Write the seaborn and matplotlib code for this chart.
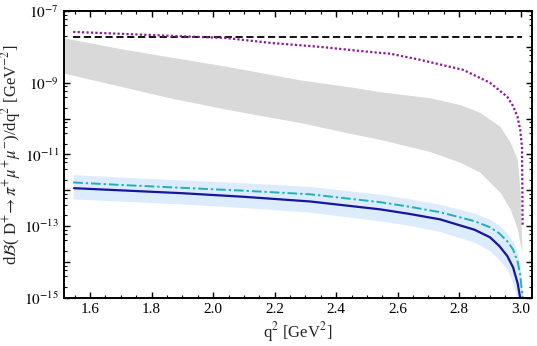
import numpy as np
import pandas as pd
import matplotlib
matplotlib.use("Agg")
import matplotlib.pyplot as plt
import matplotlib.ticker as mticker
import seaborn as sns

# values, as log10 of dB/dq^2
gray_q = [1.50, 1.70, 1.86, 2.05, 2.283, 2.45, 2.543, 2.706, 2.803, 2.868, 2.933, 2.966, 2.989, 2.998, 3.004]
gray_hi = [-7.72, -8.05, -8.28, -8.55, -8.92, -9.12, -9.25, -9.42, -9.61, -9.83, -10.22, -10.67, -11.14, -12.06, -13.72]
gray_lo = [-8.70, -9.10, -9.42, -9.75, -10.11, -10.42, -10.58, -10.92, -11.22, -11.5, -12.06, -12.53, -13.08, -13.5, -13.72]

dot_q = [1.545, 1.86, 2.04, 2.19, 2.35, 2.51, 2.576, 2.673, 2.813, 2.90, 2.956, 2.975, 2.989, 2.998, 3.004, 3.006]
dot_v = [-7.58, -7.69, -7.75, -7.89, -8.0, -8.14, -8.19, -8.36, -8.64, -9.0, -9.39, -9.65, -9.94, -10.3, -10.8, -13.0]

dash_q = [1.545, 3.004]
dash_v = [-7.72, -7.72]

blue_q = [1.548, 1.7, 1.9, 2.1, 2.315, 2.543, 2.64, 2.738, 2.85, 2.90, 2.93, 2.956, 2.975, 2.99, 2.998]
blue_v = [-11.94, -12.0, -12.08, -12.18, -12.31, -12.53, -12.66, -12.81, -13.1, -13.31, -13.55, -13.83, -14.15, -14.6, -15.0]

cyan_q = [1.545, 1.7, 1.9, 2.1, 2.315, 2.543, 2.64, 2.738, 2.85, 2.90, 2.93, 2.956, 2.975, 2.99, 2.998, 3.006]
cyan_v = [-11.78, -11.85, -11.93, -12.01, -12.11, -12.33, -12.46, -12.61, -12.86, -13.03, -13.2, -13.42, -13.65, -14.0, -14.35, -15.0]

band_q = [1.545, 1.7, 1.9, 2.1, 2.315, 2.543, 2.64, 2.738, 2.85, 2.90, 2.93, 2.956, 2.975, 2.99, 2.998, 3.006]
band_hi = [-11.56, -11.63, -11.71, -11.79, -11.89, -12.11, -12.24, -12.39, -12.64, -12.81, -12.98, -13.2, -13.43, -13.75, -14.1, -15.2]
band_lo = [-12.24, -12.3, -12.38, -12.48, -12.61, -12.85, -12.98, -13.15, -13.45, -13.69, -13.95, -14.2, -14.6, -15.1, -15.4, -15.5]

sns.set_style("ticks")
plt.rcParams['font.family'] = ['Liberation Serif', 'DejaVu Serif']
plt.rcParams['mathtext.fontset'] = 'stix'
plt.rcParams['xtick.direction'] = 'in'
plt.rcParams['ytick.direction'] = 'in'

fig = plt.figure(figsize=(5.37, 3.46), dpi=100)
ax = fig.add_axes([0.119, 0.139, 0.872, 0.829])

ax.fill_between(gray_q, np.power(10.0, gray_lo), np.power(10.0, gray_hi), color="#d9d9d9", lw=0)
ax.fill_between(band_q, np.power(10.0, band_lo), np.power(10.0, band_hi), color="#dcecfd", lw=0)

dash = pd.DataFrame({"q2": dash_q, "B": np.power(10.0, dash_v)})
dot = pd.DataFrame({"q2": dot_q, "B": np.power(10.0, dot_v)})
blue = pd.DataFrame({"q2": blue_q, "B": np.power(10.0, blue_v)})
cyan = pd.DataFrame({"q2": cyan_q, "B": np.power(10.0, cyan_v)})

sns.lineplot(data=dash, x="q2", y="B", ax=ax, color="black", lw=1.3, linestyle=(0, (4, 2)))
sns.lineplot(data=dot, x="q2", y="B", ax=ax, color="#8a1a96", lw=1.6, linestyle=(0, (1, 1)))
sns.lineplot(data=cyan, x="q2", y="B", ax=ax, color="#1fb0b8", lw=1.4, linestyle=(0, (5, 1.5, 1.2, 1.5)))
sns.lineplot(data=blue, x="q2", y="B", ax=ax, color="#16169c", lw=1.6)

ax.set_yscale("log")
ax.set_xlim(1.515, 3.037)
ax.set_ylim(1e-15, 1e-7)

ax.xaxis.set_major_locator(mticker.MultipleLocator(0.2))
ax.xaxis.set_minor_locator(mticker.MultipleLocator(0.05))
ax.xaxis.set_major_formatter(mticker.FormatStrFormatter("%.1f"))
ax.yaxis.set_major_locator(mticker.FixedLocator([10.0 ** k for k in range(-15, -6)]))
ax.yaxis.set_major_formatter(mticker.FuncFormatter(
    lambda v, p: r"$10^{%d}$" % round(np.log10(v)) if round(np.log10(v)) % 2 else ""))
ax.yaxis.set_minor_locator(mticker.LogLocator(base=10, subs=[2, 4, 6, 8], numticks=30))
ax.yaxis.set_minor_formatter(mticker.NullFormatter())

ax.tick_params(which="both", top=True, right=True, labelsize=11, colors="black")
ax.tick_params(which="major", length=4, width=1)
ax.tick_params(which="minor", length=2, width=0.8)
for s in ax.spines.values():
    s.set_linewidth(1.4)
    s.set_color("black")

ax.set_xlabel(r"q$^{2}$ [GeV$^{2}$]", fontsize=12, labelpad=3)
ax.set_ylabel(r"d$\mathcal{B}$( D$^{+}\!\rightarrow\pi^{+}\mu^{+}\mu^{-}$)/dq$^{2}$ [GeV$^{-2}$]", fontsize=12, labelpad=1)

fig.savefig("out.png", dpi=100)
